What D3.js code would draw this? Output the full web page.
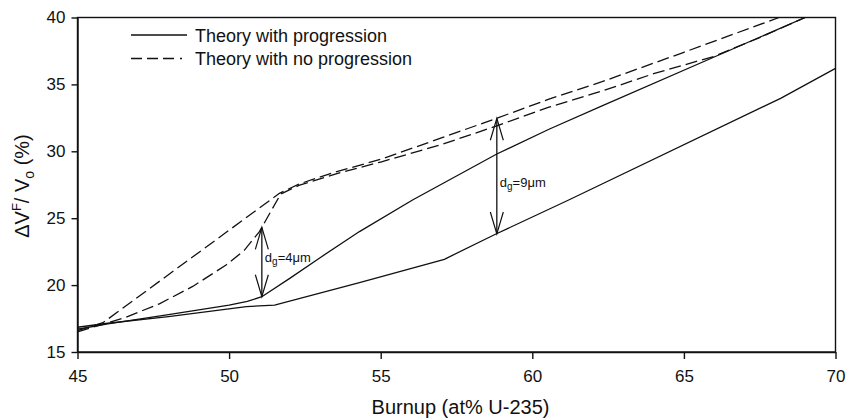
<!DOCTYPE html>
<html>
<head>
<meta charset="utf-8">
<script src="https://cdn.jsdelivr.net/npm/d3@7"></script>
<style>
  body { margin: 0; background: #fff; }
  svg text { font-family: Arial, "Liberation Sans", Helvetica, sans-serif; fill: #111; }
</style>
</head>
<body>
<svg id="chart" width="848" height="420"></svg>
<script>
// theory with progression, dg = 4um (upper solid)
var prog4X = [45, 46, 48, 50, 50.6, 51.08, 52, 53, 54.3, 56.05, 58.83, 60.55, 62.3, 66, 69];
var prog4Y = [16.7, 17.1, 17.8, 18.5, 18.78, 19.13, 20.5, 22.05, 24.0, 26.36, 29.8, 31.65, 33.4, 37.05, 40];
// theory with progression, dg = 9um (lower solid)
var prog9X = [45, 46, 48, 50.57, 51.5, 54.3, 57.1, 58.8, 61.2, 68.19, 70];
var prog9Y = [16.85, 17.15, 17.65, 18.39, 18.51, 20.18, 21.93, 23.82, 26.36, 33.96, 36.2];
// theory with no progression, dg = 4um (curved dashed)
var noProg4X = [45, 45.8, 46.6, 47.7, 48.8, 49.9, 50.5, 51.0, 51.4, 51.7, 52.3, 53.5, 55, 57, 58.83, 60.55, 62.3, 64, 66, 67.5, 69];
var noProg4Y = [16.5, 17.05, 17.6, 18.6, 19.9, 21.5, 22.6, 24.0, 25.6, 26.8, 27.45, 28.3, 29.2, 30.5, 31.9, 33.3, 34.5, 35.8, 37.1, 38.5, 40];
// theory with no progression, dg = 9um (straight dashed)
var noProg9X = [45, 45.84, 51.66, 52.3, 53.5, 55, 57, 58.83, 60.55, 62.3, 65, 68.14];
var noProg9Y = [16.6, 17.19, 26.86, 27.55, 28.45, 29.4, 31.0, 32.47, 33.9, 35.2, 37.4, 40];

// double arrows between the curves
var arrowX = [51.08, 58.83];
var arrowFrom = [19.13, 23.82];
var arrowTo = [24.32, 32.47];
var arrowLabel = ["=4\u03bcm", "=9\u03bcm"];
var arrowLabelY = [21.73, 27.35];

var xTicks = [45, 50, 55, 60, 65, 70];
var yTicks = [15, 20, 25, 30, 35, 40];
var legendNames = ["Theory with progression", "Theory with no progression"];

var margin = {left: 77.5, right: 12.5, top: 17.5, bottom: 68};
var width = 848, height = 420;

var svg = d3.select("#chart");

var x = d3.scaleLinear().domain([45, 70]).range([margin.left, width - margin.right]);
var y = d3.scaleLinear().domain([15, 40]).range([height - margin.bottom, margin.top]);

function zip(xs, ys) {
  return xs.map(function(d, i) { return [d, ys[i]]; });
}

var line = d3.line()
  .x(function(d) { return x(d[0]); })
  .y(function(d) { return y(d[1]); });

svg.append("clipPath").attr("id", "clip")
  .append("rect")
  .attr("x", margin.left).attr("y", margin.top)
  .attr("width", x(70) - x(45)).attr("height", y(15) - y(40));

var plot = svg.append("g").attr("clip-path", "url(#clip)");

var series = [
  {pts: zip(prog4X, prog4Y), dash: null},
  {pts: zip(prog9X, prog9Y), dash: null},
  {pts: zip(noProg4X, noProg4Y), dash: "12,5"},
  {pts: zip(noProg9X, noProg9Y), dash: "12,5"}
];

plot.selectAll("path.curve")
  .data(series)
  .enter()
  .append("path")
  .attr("class", "curve")
  .attr("d", function(d) { return line(d.pts); })
  .attr("fill", "none")
  .attr("stroke", "#111")
  .attr("stroke-width", 1.3)
  .attr("stroke-dasharray", function(d) { return d.dash; });

// arrows
var arrows = svg.append("g");
arrowX.forEach(function(ax, i) {
  var px = x(ax), y0 = y(arrowFrom[i]), y1 = y(arrowTo[i]);
  arrows.append("line")
    .attr("x1", px).attr("x2", px).attr("y1", y0).attr("y2", y1)
    .attr("stroke", "#111").attr("stroke-width", 1.3);
  // open heads at both ends
  [[y1, 1], [y0, -1]].forEach(function(h) {
    arrows.append("path")
      .attr("d", "M" + (px - 6.5) + "," + (h[0] + 22 * h[1]) + "L" + px + "," + h[0] + "L" + (px + 6.5) + "," + (h[0] + 22 * h[1]))
      .attr("fill", "none").attr("stroke", "#111").attr("stroke-width", 1.2);
  });
  var t = arrows.append("text")
    .attr("x", px + 3)
    .attr("y", y(arrowLabelY[i]))
    .style("font-size", "13px");
  t.append("tspan").text("d");
  t.append("tspan").attr("dy", 3).style("font-size", "10px").text("g");
  t.append("tspan").attr("dy", -3).text(arrowLabel[i]);
});

// frame
svg.append("rect")
  .attr("x", x(45)).attr("y", y(40))
  .attr("width", x(70) - x(45)).attr("height", y(15) - y(40))
  .attr("fill", "none").attr("stroke", "#111").attr("stroke-width", 1.4);

// axes
var xAxis = svg.append("g")
  .attr("transform", "translate(0," + y(15) + ")")
  .call(d3.axisBottom(x).tickValues(xTicks).tickSize(7).tickPadding(11).tickSizeOuter(0));
var yAxis = svg.append("g")
  .attr("transform", "translate(" + x(45) + ",0)")
  .call(d3.axisLeft(y).tickValues(yTicks).tickSize(6).tickPadding(6).tickSizeOuter(0));

[xAxis, yAxis].forEach(function(a) {
  a.selectAll("path, line").attr("stroke", "#111").attr("stroke-width", 1.4);
  a.selectAll("text").style("font-size", "17px").attr("fill", "#111");
});

// axis titles
svg.append("text")
  .attr("x", (x(45) + x(70)) / 2 + 4)
  .attr("y", 414)
  .attr("text-anchor", "middle")
  .style("font-size", "20px")
  .text("Burnup (at% U-235)");

var yt = svg.append("text")
  .attr("transform", "translate(29,186) rotate(-90)")
  .attr("text-anchor", "middle")
  .style("font-size", "20px");
yt.append("tspan").text("\u0394V");
yt.append("tspan").attr("dy", -8).style("font-size", "13px").text("F");
yt.append("tspan").attr("dy", 8).text("/ V");
yt.append("tspan").attr("dy", 5).style("font-size", "14px").text("o");
yt.append("tspan").attr("dy", -5).text(" (%)");

// legend
var legend = svg.append("g");
legendNames.forEach(function(name, i) {
  var ly = 35 + i * 23.5;
  legend.append("line")
    .attr("x1", 131).attr("x2", 187).attr("y1", ly).attr("y2", ly)
    .attr("stroke", "#111").attr("stroke-width", 1.3)
    .attr("stroke-dasharray", i === 0 ? null : "11,5,11,5,11,6,2,20");
  legend.append("text")
    .attr("x", 195).attr("y", ly + 6.5)
    .style("font-size", "18px")
    .text(name);
});
</script>
</body>
</html>
